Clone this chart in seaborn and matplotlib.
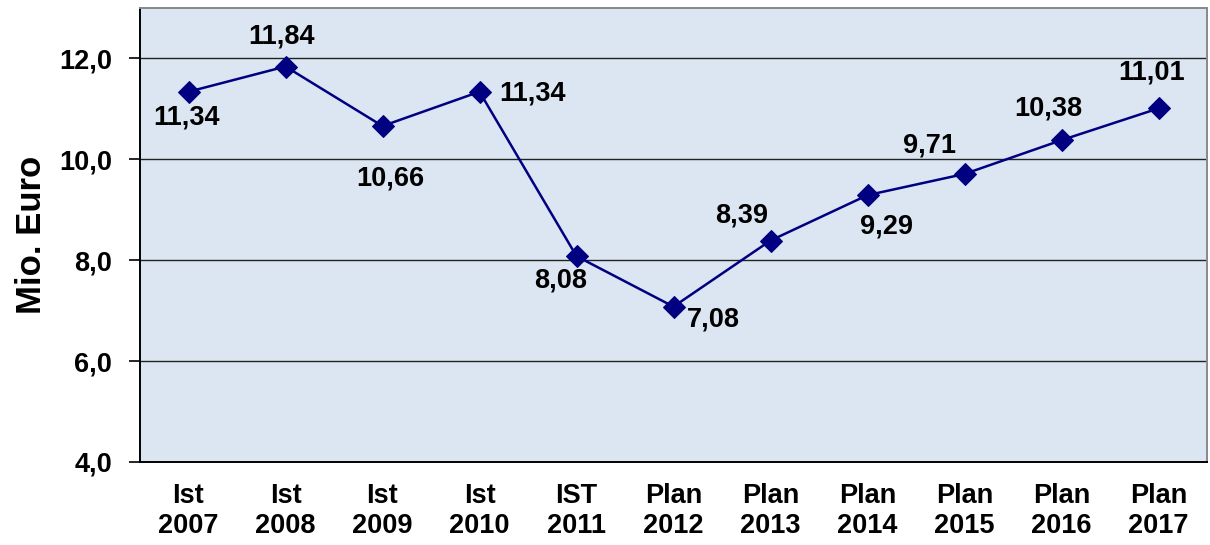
import matplotlib
matplotlib.use('Agg')
import matplotlib.pyplot as plt
import seaborn as sns
import pandas as pd

# Werte aus der Grafik
kategorien = ['Ist\n2007', 'Ist\n2008', 'Ist\n2009', 'Ist\n2010', 'IST\n2011', 'Plan\n2012',
              'Plan\n2013', 'Plan\n2014', 'Plan\n2015', 'Plan\n2016', 'Plan\n2017']
werte = [11.34, 11.84, 10.66, 11.34, 8.08, 7.08, 8.39, 9.29, 9.71, 10.38, 11.01]
y_ticks = [4, 6, 8, 10, 12]

# Lage der Datenbeschriftungen (Pixel relativ zum Punkt)
label_offsets = [(-2, -26), (-4, 30), (8, -52), (53, -2), (-16, -24), (40, -13),
                 (-29, 25), (19, -31), (-35, 28), (-13, 32), (-7, 36)]

sns.set_style('white')
plt.rcParams['font.family'] = ['Liberation Sans', 'DejaVu Sans']
plt.rcParams['font.weight'] = 'bold'
plt.rcParams['text.color'] = 'black'
plt.rcParams['xtick.color'] = 'black'
plt.rcParams['ytick.color'] = 'black'
plt.rcParams['axes.labelcolor'] = 'black'

df = pd.DataFrame({'pos': range(len(kategorien)), 'wert': werte})

fig = plt.figure(figsize=(12.1, 5.45), dpi=100)
ax = fig.add_axes([140 / 1210, 83 / 545, 1067 / 1210, 454 / 545])
ax.set_facecolor('#dce6f2')

for y in y_ticks[1:]:
    ax.axhline(y, color='#222222', lw=1.0, zorder=1)

sns.lineplot(data=df, x='pos', y='wert', ax=ax, color='#000080', lw=1.8,
             marker='D', markersize=11, markeredgecolor='#000080', zorder=3)

for i, (v, off) in enumerate(zip(werte, label_offsets)):
    ax.annotate(f'{v:.2f}'.replace('.', ','), (i, v), xytext=off, textcoords='offset pixels',
                ha='center', va='center', fontsize=19.5, fontweight='bold', color='black')

ax.set_xlim(-0.5, len(kategorien) - 0.5)
ax.set_ylim(4, 13)
ax.set_xticks(range(len(kategorien)))
ax.set_xticklabels(kategorien, fontsize=19.5, fontweight='bold', linespacing=1.2)
ax.set_xticks([i + 0.5 for i in range(-1, len(kategorien))], minor=True)
ax.tick_params(axis='x', which='major', length=0, pad=15)
ax.tick_params(axis='x', which='minor', length=7, width=1.2, color='black', direction='out')
ax.set_yticks(y_ticks)
ax.set_yticklabels([f'{t:.1f}'.replace('.', ',') for t in y_ticks], fontsize=19.5, fontweight='bold')
ax.tick_params(axis='y', length=8, width=1.2, color='black', direction='out', left=True, pad=12)
ax.set_xlabel('')
ax.set_ylabel('Mio. Euro', fontsize=25, fontweight='bold', labelpad=8)

for side in ['left', 'bottom']:
    ax.spines[side].set_color('black')
    ax.spines[side].set_linewidth(1.4)
for side in ['top', 'right']:
    ax.spines[side].set_color('#888888')
    ax.spines[side].set_linewidth(1.4)
    ax.spines[side].set_visible(True)

fig.savefig('out.png', dpi=100, facecolor='white')
